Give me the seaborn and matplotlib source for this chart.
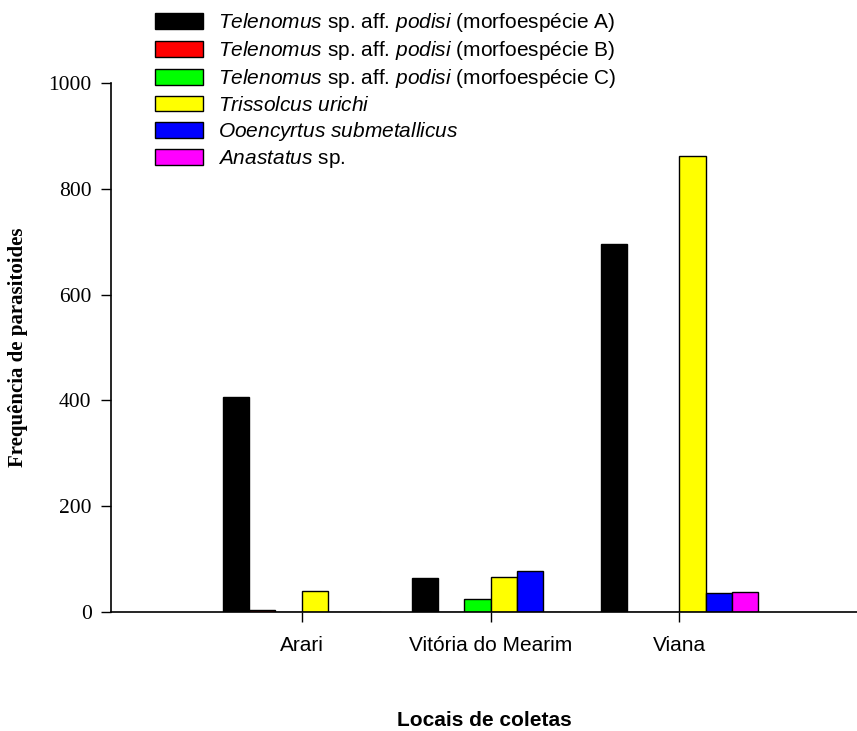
import matplotlib
matplotlib.use("Agg")
import matplotlib.pyplot as plt
import seaborn as sns
import pandas as pd

# Counts of egg parasitoids per collection site
locais = ["Arari", "Vitória do Mearim", "Viana"]
especies = [
    r"$\mathit{Telenomus}$ sp. aff. $\mathit{podisi}$ (morfoespécie A)",
    r"$\mathit{Telenomus}$ sp. aff. $\mathit{podisi}$ (morfoespécie B)",
    r"$\mathit{Telenomus}$ sp. aff. $\mathit{podisi}$ (morfoespécie C)",
    r"$\mathit{Trissolcus\ urichi}$",
    r"$\mathit{Ooencyrtus\ submetallicus}$",
    r"$\mathit{Anastatus}$ sp.",
]
tel_a = [407, 64, 695]
tel_b = [3, 0, 0]
tel_c = [0, 25, 0]
tris_urichi = [40, 66, 862]
ooen_submet = [0, 77, 36]
anastatus = [0, 0, 38]
cores = ["#000000", "#ff0000", "#00ff00", "#ffff00", "#0000ff", "#ff00ff"]

series = [tel_a, tel_b, tel_c, tris_urichi, ooen_submet, anastatus]
rows = []
for esp, vals in zip(especies, series):
    for loc, v in zip(locais, vals):
        rows.append({"Local": loc, "Espécie": esp, "Frequência": v})
df = pd.DataFrame(rows)

sns.set_style("ticks")
plt.rcParams["mathtext.fontset"] = "custom"
plt.rcParams["mathtext.rm"] = "Liberation Sans"
plt.rcParams["mathtext.it"] = "Liberation Sans:italic"
plt.rcParams["font.family"] = ["Liberation Sans", "DejaVu Sans"]
plt.rcParams["text.color"] = "black"
plt.rcParams["axes.labelcolor"] = "black"
plt.rcParams["xtick.color"] = "black"
plt.rcParams["ytick.color"] = "black"

fig = plt.figure(figsize=(8.57, 7.31), dpi=100)
W, H = 857, 731
ax = fig.add_axes([111 / W, 1 - 612 / H, (857 - 111) / W, (612 - 83) / H])

sns.barplot(
    data=df, x="Local", y="Frequência", hue="Espécie",
    order=locais, hue_order=especies, palette=cores,
    width=0.836, edgecolor="black", linewidth=1.0,
    saturation=1, ax=ax, legend=True,
)

ax.set_xlim(-1.01, 2.94)
ax.set_ylim(0, 1000)
ax.set_yticks([0, 200, 400, 600, 800, 1000])
for lab in ax.get_yticklabels():
    lab.set_fontfamily("Liberation Serif")
    lab.set_fontsize(15.5)
    lab.set_color("black")
for lab in ax.get_xticklabels():
    lab.set_fontsize(15)
    lab.set_color("black")
ax.tick_params(axis="y", direction="out", length=7, width=1, color="black", pad=7)
ax.tick_params(axis="x", direction="out", length=7, width=1, color="black", pad=10)

ax.set_xlabel("Locais de coletas", fontsize=15, fontweight="bold", va="top",
              color="black")
ax.xaxis.set_label_coords(0.5, (612 - 711) / 529)
ax.set_ylabel("Frequência de parasitoides", fontsize=15, fontweight="bold",
              fontfamily="Liberation Serif", va="center", color="black")
ax.yaxis.set_label_coords((18 - 111) / 746, 0.5)

sns.despine(ax=ax)
for s in ("left", "bottom"):
    ax.spines[s].set_linewidth(1.2)
    ax.spines[s].set_color("black")
    ax.spines[s].set_clip_on(False)

handles, labels = ax.get_legend_handles_labels()
ax.get_legend().remove()
leg = fig.legend(
    handles, labels, loc="upper left",
    bbox_to_anchor=(155 / W, 1 - 11 / H),
    frameon=False, fontsize=15, borderpad=0, borderaxespad=0,
    handlelength=2.3, handleheight=0.78, handletextpad=0.72,
    labelspacing=0.25,
)
for t in leg.get_texts():
    t.set_color("black")

fig.savefig("out.png", dpi=100)
